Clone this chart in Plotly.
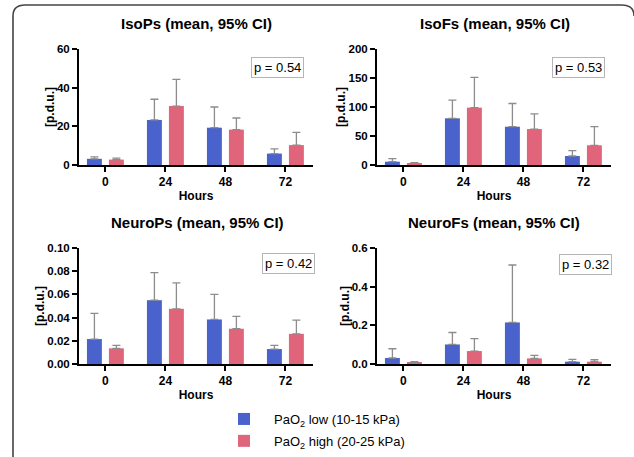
import plotly.graph_objects as go

W, H = 634, 457

hours = ["0", "24", "48", "72"]
titles = ["IsoPs (mean, 95% CI)", "IsoFs (mean, 95% CI)",
          "NeuroPs (mean, 95% CI)", "NeuroFs (mean, 95% CI)"]
p_values = ["p = 0.54", "p = 0.53", "p = 0.42", "p = 0.32"]
series_names = ["PaO<sub>2</sub> low (10-15 kPa)", "PaO<sub>2</sub> high (20-25 kPa)"]
y_title = "[p.d.u.]"
x_title = "Hours"

# mean values and upper 95% CI limits
isops_low = [3.2, 23.3, 19.3, 5.9]
isops_low_ci = [4.2, 34.0, 30.0, 8.3]
isops_high = [2.8, 30.5, 18.3, 10.3]
isops_high_ci = [3.6, 44.3, 24.3, 16.9]

isofs_low = [5.7, 80.5, 66.0, 15.5]
isofs_low_ci = [11.0, 112.0, 106.0, 24.7]
isofs_high = [2.9, 98.9, 62.0, 34.0]
isofs_high_ci = [4.0, 151.0, 88.0, 66.0]

neurops_low = [0.0215, 0.055, 0.0384, 0.0129]
neurops_low_ci = [0.0436, 0.0788, 0.060, 0.016]
neurops_high = [0.0135, 0.0476, 0.0304, 0.026]
neurops_high_ci = [0.016, 0.070, 0.041, 0.0378]

neurofs_low = [0.031, 0.101, 0.215, 0.012]
neurofs_low_ci = [0.079, 0.163, 0.512, 0.024]
neurofs_high = [0.007, 0.067, 0.029, 0.012]
neurofs_high_ci = [0.012, 0.131, 0.045, 0.022]

panels = [
    (isops_low, isops_low_ci, isops_high, isops_high_ci),
    (isofs_low, isofs_low_ci, isofs_high, isofs_high_ci),
    (neurops_low, neurops_low_ci, neurops_high, neurops_high_ci),
    (neurofs_low, neurofs_low_ci, neurofs_high, neurofs_high_ci),
]
y_ranges = [[0, 60], [0, 200], [0, 0.10], [0, 0.6]]
y_dticks = [20, 50, 0.02, 0.2]
y_formats = ["d", "d", ".2f", ".1f"]

colors = ["#4a63cc", "#e0657b"]
err_color = "#8c8c8c"
FONT = "Liberation Sans, Arial, sans-serif"

# pixel geometry -> paper fractions
def px(x):
    return x / W

def py(y):
    return 1 - y / H

x_domains = [[px(79), px(313)], [px(377), px(611)], [px(79), px(313)], [px(377), px(611)]]
y_domains = [[py(165), py(49)], [py(165), py(49)], [py(364), py(248)], [py(364), py(248)]]

fig = go.Figure()

for i, (lo, lo_ci, hi, hi_ci) in enumerate(panels):
    xa = "x" if i == 0 else f"x{i+1}"
    ya = "y" if i == 0 else f"y{i+1}"
    for j, (vals, ci) in enumerate([(lo, lo_ci), (hi, hi_ci)]):
        fig.add_trace(go.Bar(
            x=hours, y=vals, name=series_names[j],
            marker=dict(color=colors[j], line=dict(width=0)),
            error_y=dict(type="data", symmetric=False,
                         array=[c - v for c, v in zip(ci, vals)],
                         arrayminus=[0] * len(vals),
                         color=err_color, thickness=1.3, width=4),
            xaxis=xa, yaxis=ya, showlegend=(i == 0), legendgroup=str(j),
        ))

layout = dict(
    width=W, height=H,
    margin=dict(l=0, r=0, t=0, b=0),
    paper_bgcolor="white", plot_bgcolor="white",
    barmode="group", bargap=0.267, bargroupgap=0.32,
    font=dict(family=FONT, color="black"),
    showlegend=True,
    legend=dict(x=px(214), y=py(404), xanchor="left", yanchor="top",
                font=dict(size=13, family=FONT, color="black"),
                itemwidth=50, tracegroupgap=2, bgcolor="rgba(0,0,0,0)"),
)

for i in range(4):
    xk = "xaxis" if i == 0 else f"xaxis{i+1}"
    yk = "yaxis" if i == 0 else f"yaxis{i+1}"
    ya = "y" if i == 0 else f"y{i+1}"
    xa = "x" if i == 0 else f"x{i+1}"
    layout[xk] = dict(
        domain=x_domains[i], anchor=ya, type="category",
        range=[-0.44, 3.46],
        showline=True, linecolor="black", linewidth=2,
        ticks="outside", ticklen=5, tickwidth=1.5, tickcolor="black",
        tickfont=dict(size=12, family=FONT, weight="bold"),
        showgrid=False, zeroline=False, fixedrange=True,
        title=dict(text=x_title, font=dict(size=12, family=FONT, weight="bold"), standoff=3),
        automargin=False,
    )
    layout[yk] = dict(
        domain=y_domains[i], anchor=xa,
        range=y_ranges[i], dtick=y_dticks[i], tick0=0, tickformat=y_formats[i],
        showline=True, linecolor="black", linewidth=2,
        ticks="outside", ticklen=5, tickwidth=1.5, tickcolor="black",
        tickfont=dict(size=11.5, family=FONT, weight="bold"),
        showgrid=False, zeroline=False, fixedrange=True,
        title=dict(text=y_title, font=dict(size=12, family=FONT, weight="bold"), standoff=0),
        automargin=False,
    )

fig.update_layout(**layout)

title_pos = [(196, 24), (495, 24), (197, 223), (494, 223)]
p_pos = [(277.5, 67), (578, 67), (288, 263), (585, 264)]
annotations = []
for i in range(4):
    annotations.append(dict(
        text=titles[i], x=px(title_pos[i][0]), y=py(title_pos[i][1]),
        xref="paper", yref="paper", xanchor="center", yanchor="middle",
        showarrow=False, font=dict(size=15, family=FONT, weight="bold", color="black"),
    ))
    annotations.append(dict(
        text=p_values[i], x=px(p_pos[i][0]), y=py(p_pos[i][1]),
        xref="paper", yref="paper", xanchor="center", yanchor="middle",
        showarrow=False, font=dict(size=13, family=FONT, color="black"),
        bordercolor="#b5b5b5", borderwidth=1, borderpad=2, bgcolor="white",
    ))
fig.update_layout(annotations=annotations)

# rounded outer frame (pixel coordinates converted to paper)
frame = (f"M {px(13)},{py(457)} L {px(13)},{py(16)} "
         f"Q {px(13)},{py(5)} {px(25)},{py(5)} "
         f"L {px(622)},{py(5)} Q {px(634)},{py(5)} {px(634)},{py(16)}")
fig.add_shape(type="path", path=frame, xref="paper", yref="paper",
              line=dict(color="#444444", width=1.6))

fig.write_html("out.html")
